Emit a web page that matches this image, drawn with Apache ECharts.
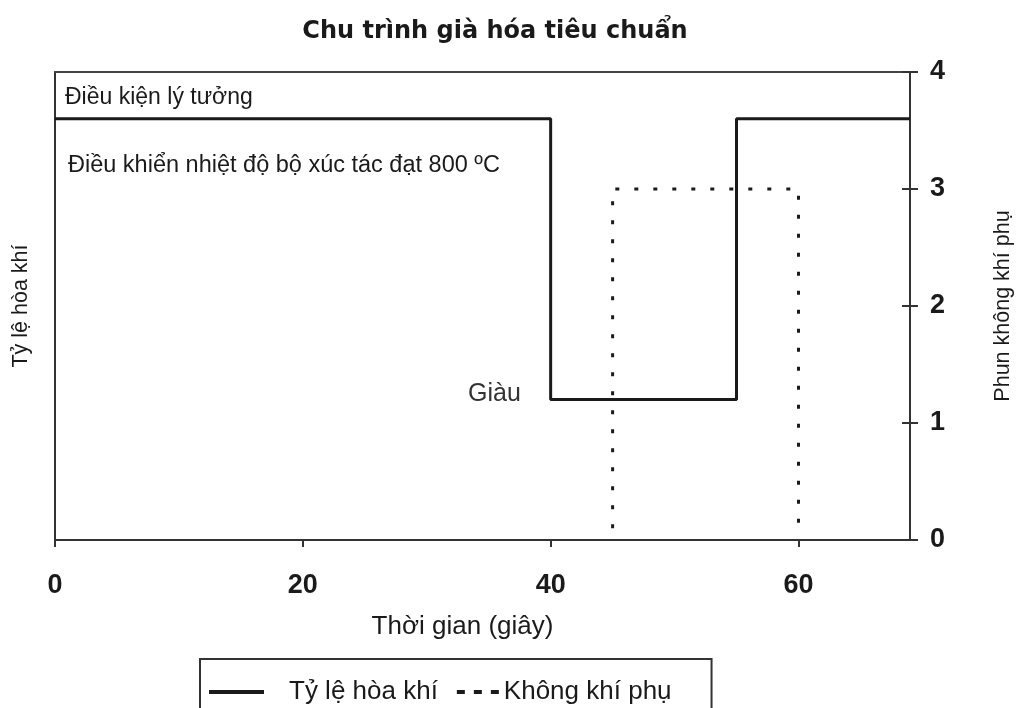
<!DOCTYPE html>
<html>
<head>
<meta charset="utf-8">
<script src="https://cdn.jsdelivr.net/npm/echarts@6/dist/echarts.min.js"></script>
<style>html,body{margin:0;padding:0;background:#fff}#c{width:1017px;height:708px}</style>
</head>
<body>
<div id="c"></div>
<script>
// Data
const chartTitle = 'Chu trình già hóa tiêu chuẩn';
const seriesNames = ['Tỷ lệ hòa khí', 'Không khí phụ'];
const xTicks = [0, 20, 40, 60];
const yTicks = [0, 1, 2, 3, 4];
// [time (s), level]
const airFuelRatio = [[0, 3.6], [40, 3.6], [40, 1.2], [55, 1.2], [55, 3.6], [69, 3.6]];
const secondaryAir = [[45, 0.1], [45, 3], [60, 3], [60, 0.1]];
const annotations = ['Điều kiện lý tưởng', 'Điều khiển nhiệt độ bộ xúc tác đạt 800 ºC', 'Giàu'];

const sans = '"Liberation Sans", Arial, sans-serif';
const ink = '#1a1a1a';
const axisColor = '#333';
const xMax = 69;

const chart = echarts.init(document.getElementById('c'));
chart.setOption({
  animation: false,
  backgroundColor: '#fff',
  title: {
    text: chartTitle, left: 490, top: 15, textAlign: 'center',
    textStyle: { fontFamily: '"DejaVu Sans", sans-serif', fontWeight: 'bold', fontSize: 24, color: ink }
  },
  grid: { left: 55, right: 107, top: 72, bottom: 168, outerBoundsMode: 'none', containLabel: false },
  legend: {
    left: 200, top: 659,
    data: [
      { name: seriesNames[0], icon: 'path://M0,0h55v4h-55z', textStyle: { padding: [0, 0, 0, 20] } },
      { name: seriesNames[1], icon: 'path://M0,0 M13,0h8v4h-8z M30,0h8v4h-8z M47,0h8v4h-8z M0,4', textStyle: { padding: [0, 0, 0, 0] } }
    ],
    itemWidth: 55, itemHeight: 4, itemGap: 6,
    padding: [20, 40, 20, 9],
    borderColor: '#333', borderWidth: 2,
    textStyle: { fontFamily: sans, fontSize: 26, color: ink }
  },
  xAxis: [{
    type: 'value', min: 0, max: xMax, interval: 20,
    axisLine: { show: true, onZero: false, lineStyle: { color: axisColor, width: 2 } },
    axisTick: { show: true, length: 7, lineStyle: { color: axisColor, width: 2 } },
    axisLabel: {
      showMaxLabel: false, margin: 32,
      fontFamily: sans, fontWeight: 'bold', fontSize: 27, color: ink,
      formatter: v => (xTicks.includes(v) ? String(v) : '')
    },
    splitLine: { show: false },
    name: 'Thời gian (giây)', nameLocation: 'middle', nameGap: 74,
    nameTextStyle: { fontFamily: sans, fontSize: 26, color: ink, padding: [0, 40, 0, 0] }
  }, {
    type: 'value', position: 'top', min: 0, max: xMax,
    axisLine: { show: true, onZero: false, lineStyle: { color: '#444', width: 2 } },
    axisTick: { show: false }, axisLabel: { show: false }, splitLine: { show: false }
  }],
  yAxis: [{
    type: 'value', min: 0, max: 4, position: 'left',
    axisLine: { show: true, onZero: false, lineStyle: { color: axisColor, width: 2 } },
    axisTick: { show: false }, axisLabel: { show: false }, splitLine: { show: false },
    name: seriesNames[0], nameLocation: 'middle', nameGap: 23,
    nameTextStyle: { fontFamily: sans, fontSize: 21.5, color: ink }
  }, {
    type: 'value', min: 0, max: 4, interval: 1, position: 'right',
    axisLine: { show: true, onZero: false, lineStyle: { color: axisColor, width: 2 } },
    axisTick: { show: true, length: 8, lineStyle: { color: axisColor, width: 2 } },
    axisLabel: {
      margin: 20, fontFamily: sans, fontWeight: 'bold', fontSize: 27, color: ink,
      formatter: v => (yTicks.includes(v) ? String(v) : '')
    },
    splitLine: { show: false },
    name: 'Phun không khí phụ', nameLocation: 'middle', nameGap: 82,
    nameTextStyle: { fontFamily: sans, fontSize: 21.5, color: ink }
  }, {
    type: 'value', min: 0, max: 4, interval: 1, position: 'right',
    axisLine: { show: false, onZero: false },
    axisTick: { show: true, inside: true, length: 8, lineStyle: { color: axisColor, width: 2 } },
    axisLabel: { show: false }, splitLine: { show: false }
  }],
  series: [{
    name: seriesNames[0], type: 'line', yAxisIndex: 0, data: airFuelRatio,
    symbol: 'none', lineStyle: { color: ink, width: 3 }, itemStyle: { color: ink }
  }, {
    name: seriesNames[1], type: 'line', yAxisIndex: 1, data: secondaryAir,
    symbol: 'none', lineStyle: { color: ink, width: 3, type: [4, 15] }, itemStyle: { color: ink }
  }],
  graphic: [
    { type: 'text', left: 65, top: 86, style: { text: annotations[0], fontFamily: sans, fontSize: 23, fill: ink } },
    { type: 'text', left: 68, top: 154, style: { text: annotations[1], fontFamily: sans, fontSize: 23.5, fill: ink } },
    { type: 'text', left: 468, top: 382, style: { text: annotations[2], fontFamily: sans, fontSize: 25, fill: '#333' } }
  ]
});
</script>
</body>
</html>
